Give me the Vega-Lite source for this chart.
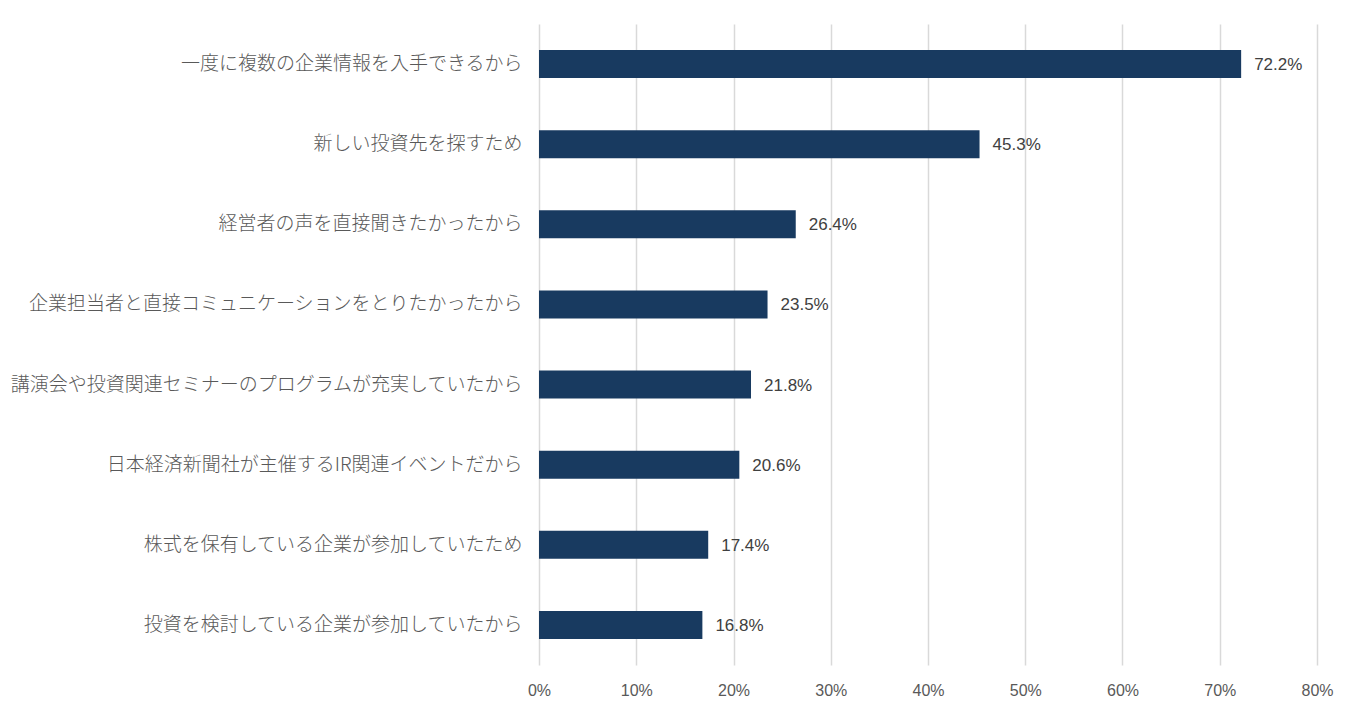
{
  "$schema": "https://vega.github.io/schema/vega-lite/v6.json",
  "width": 778,
  "height": 641,
  "autosize": {"type": "none"},
  "padding": {"left": 539, "top": 24, "right": 41, "bottom": 50},
  "background": "#ffffff",
  "data": {
    "values": [
      {"reason": "一度に複数の企業情報を入手できるから", "share": 0.722},
      {"reason": "新しい投資先を探すため", "share": 0.453},
      {"reason": "経営者の声を直接聞きたかったから", "share": 0.264},
      {"reason": "企業担当者と直接コミュニケーションをとりたかったから", "share": 0.235},
      {"reason": "講演会や投資関連セミナーのプログラムが充実していたから", "share": 0.218},
      {"reason": "日本経済新聞社が主催するIR関連イベントだから", "share": 0.206},
      {"reason": "株式を保有している企業が参加していたため", "share": 0.174},
      {"reason": "投資を検討している企業が参加していたから", "share": 0.168}
    ]
  },
  "encoding": {
    "y": {
      "field": "reason",
      "type": "nominal",
      "sort": null,
      "scale": {"paddingInner": 0.65, "paddingOuter": 0.325},
      "axis": {
        "title": null,
        "domain": false,
        "ticks": false,
        "labelPadding": 17,
        "labelFont": "Noto Sans CJK JP",
        "labelFontWeight": 300,
        "labelFontSize": 19,
        "labelColor": "#595959",
        "labelLimit": 600
      }
    },
    "x": {
      "field": "share",
      "type": "quantitative",
      "scale": {"domain": [0, 0.8]},
      "axis": {
        "title": null,
        "values": [0, 0.1, 0.2, 0.3, 0.4, 0.5, 0.6, 0.7, 0.8],
        "format": ".0%",
        "labelFlush": false,
        "domain": false,
        "ticks": false,
        "grid": true,
        "gridColor": "#d9d9d9",
        "gridWidth": 1.5,
        "labelPadding": 17,
        "labelFont": "Liberation Sans",
        "labelFontSize": 16,
        "labelColor": "#595959"
      }
    }
  },
  "layer": [
    {"mark": {"type": "bar", "color": "#183a60"}},
    {
      "mark": {
        "type": "text",
        "align": "left",
        "baseline": "middle",
        "dx": 13,
        "dy": 1,
        "font": "Liberation Sans",
        "fontSize": 17,
        "color": "#404040"
      },
      "encoding": {"text": {"field": "share", "type": "quantitative", "format": ".1%"}}
    }
  ],
  "config": {"view": {"stroke": null}}
}
